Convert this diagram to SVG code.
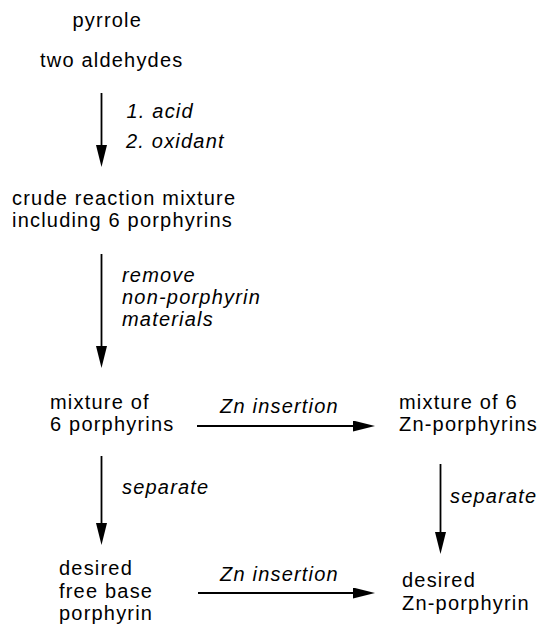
<svg xmlns="http://www.w3.org/2000/svg" width="543" height="626" viewBox="0 0 543 626">
  <defs>
    <style>
      text { font-family: "Liberation Sans", Arial, Helvetica, sans-serif; font-size: 20px; letter-spacing: 1.2px; fill: #000; }
      .cond { font-style: italic; }
      .conn line { stroke: #000; stroke-width: 1.8; fill: none; marker-end: url(#head); }
    </style>
    <marker id="head" viewBox="0 0 22 11" refX="12" refY="5.5" markerWidth="22" markerHeight="11" markerUnits="userSpaceOnUse" orient="auto">
      <path d="M0,0 L22,5.5 L0,11 Z" fill="#000"/>
    </marker>
  </defs>

  <rect width="543" height="626" fill="#fff"/>

  <!-- connectors: each line stops 10px short of the arrow tip -->
  <g id="connectors" class="conn">
    <line x1="101.5" y1="93" x2="101.5" y2="157"/>
    <line x1="101.5" y1="254" x2="101.5" y2="358"/>
    <line x1="197" y1="426" x2="365" y2="426"/>
    <line x1="101.5" y1="456" x2="101.5" y2="535"/>
    <line x1="440.5" y1="464" x2="440.5" y2="544"/>
    <line x1="198" y1="593" x2="365" y2="593"/>
  </g>

  <!-- reagent / condition labels -->
  <g id="labels">
    <text class="cond" x="126.5" y="118">1. acid</text>
    <text class="cond" x="126" y="148">2. oxidant</text>
    <text class="cond" x="122"><tspan x="122" y="282">remove</tspan><tspan x="122" y="304">non-porphyrin</tspan><tspan x="122" y="326">materials</tspan></text>
    <text class="cond" x="220" y="413">Zn insertion</text>
    <text class="cond" x="122" y="494">separate</text>
    <text class="cond" x="450" y="503">separate</text>
    <text class="cond" x="220" y="581">Zn insertion</text>
  </g>

  <g id="start">
    <text x="72.5" y="27">pyrrole</text>
    <text x="40" y="67">two aldehydes</text>
  </g>

  <g id="crude">
    <text><tspan x="12" y="205">crude reaction mixture</tspan><tspan x="12" y="227">including 6 porphyrins</tspan></text>
  </g>

  <g id="mixture">
    <text><tspan x="50" y="409">mixture of</tspan><tspan x="50" y="431">6 porphyrins</tspan></text>
  </g>

  <g id="zn-mixture">
    <text><tspan x="399" y="409">mixture of 6</tspan><tspan x="399" y="431">Zn-porphyrins</tspan></text>
  </g>

  <g id="free-base">
    <text><tspan x="59" y="575">desired</tspan><tspan x="59" y="598">free base</tspan><tspan x="59" y="620">porphyrin</tspan></text>
  </g>

  <g id="zn-porphyrin">
    <text><tspan x="402" y="587">desired</tspan><tspan x="402" y="610">Zn-porphyrin</tspan></text>
  </g>
</svg>
